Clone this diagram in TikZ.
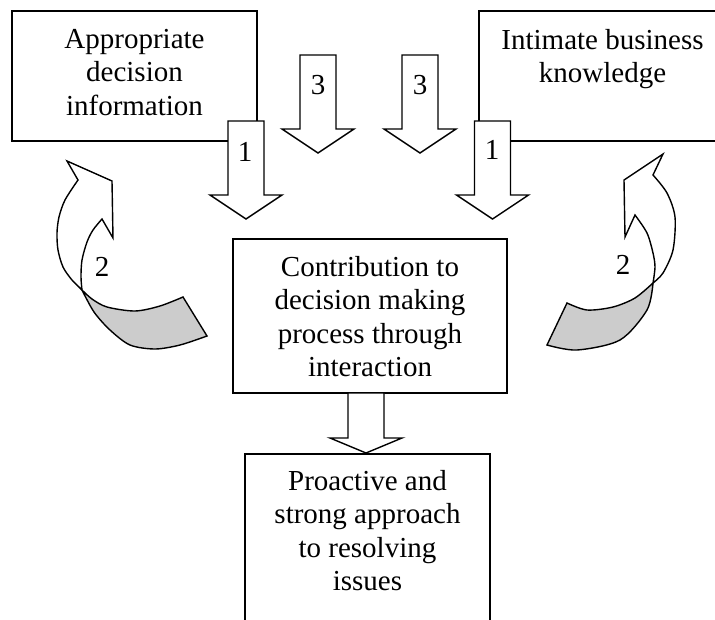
\documentclass[tikz,border=0pt]{standalone}
\usepackage{fontspec}
\setmainfont{Liberation Serif}
\usetikzlibrary{positioning}

\tikzset{
  box/.style={draw, line width=1.4pt, fill=white, inner sep=0pt},
  boxtext/.style={align=center, inner sep=0pt, font=\fontsize{29}{33.5}\selectfont},
  blockarrow/.style={draw, line width=1.4pt, fill=white, line join=miter},
  twistarrow/.style={draw, line width=1.4pt, fill=white, line join=miter},
  underside/.style={draw, line width=1.4pt, fill=gray!40},
  digit/.style={inner sep=0pt, font=\fontsize{29}{33.5}\selectfont}
}
% top point, shaft length, head height
\newcommand{\downblock}[3]{%
  \draw[blockarrow] (#1) ++(-18,0) -- ++(36,0) -- ++(0,#2) -- ++(18,0) -- ++(-36,#3) -- ++(-36,-#3) -- ++(18,0) -- cycle;}

\begin{document}
\begin{tikzpicture}[x=1pt, y=-1pt]
    \useasboundingbox (0,0) rectangle (715,619);
    \clip (0,0) rectangle (715,619);
    \node[box, minimum width=245pt, minimum height=130pt] (apprbox) at (134.5,76) {};
    \node[boxtext, below=18.5pt of apprbox.north] (apprtext) {Appropriate\\decision\\information};
    \node[box, minimum width=247pt, minimum height=130pt] (knowbox) at (602.5,76) {};
    \node[boxtext, below=18.5pt of knowbox.north] (knowtext) {Intimate business\\knowledge};

    \coordinate (onel) at (246,121);
    \coordinate (oner) at (492.5,121);
    \coordinate (threel) at (318,55);
    \coordinate (threer) at (420,55);
    \downblock{threel}{74}{24}
    \downblock{threer}{74}{24}
    \downblock{onel}{74}{24}
    \downblock{oner}{74}{24}
    \node[digit] (digonel) at (245,152) {1};
    \node[digit] (digoner) at (492,150) {1};
    \node[digit] (digthreel) at (318,85) {3};
    \node[digit] (digthreer) at (420,85) {3};

    \draw[twistarrow] (67,161) -- (112,181) -- (113,238) -- (102,219)
        -- plot[smooth] coordinates {(102,219) (93,230) (87,242) (82,260) (81,277) (82,290)}
        -- plot[smooth] coordinates {(82,290) (72,280) (63,267) (58,250) (57,233) (59,217) (65,200) (78,180)} -- cycle;
    \draw[underside] (82,290)
        -- plot[smooth] coordinates {(82,290) (92,299) (107,307) (135,311) (160,306) (183,297)}
        -- (207,336)
        -- plot[smooth] coordinates {(207,336) (180,345) (155,349) (130,345) (110,330) (94,312) (82,290)} -- cycle;
    \node[digit] (digtwol) at (102,267) {2};

    \draw[twistarrow] (663,154) -- (624,180) -- (625,237) -- (635,215)
        -- plot[smooth] coordinates {(635,215) (647,233) (653,253) (655,267) (653,283)}
        -- plot[smooth] coordinates {(653,283) (663,273) (673,250) (675,217) (667,193) (653,175)} -- cycle;
    \draw[underside] (653,283)
        -- plot[smooth] coordinates {(653,283) (635,298) (613,307) (587,310) (567,303)}
        -- (547,345)
        -- plot[smooth] coordinates {(547,345) (577,350) (620,340) (647,310) (653,283)} -- cycle;
    \node[digit] (digtwor) at (623,265) {2};

    \node[box, minimum width=274pt, minimum height=154pt] (contribbox) at (370,316) {};
    \node[boxtext, below=17.5pt of contribbox.north] (contribtext) {Contribution to\\decision making\\process through\\interaction};
    \coordinate (downc) at (366,393);
    \downblock{downc}{45}{15}
    \node[box, minimum width=245pt, minimum height=206pt] (proactbox) at (367.5,557) {};
    \node[boxtext, below=16.5pt of proactbox.north] (proacttext) {Proactive and\\strong approach\\to resolving\\issues};
\end{tikzpicture}
\end{document}
